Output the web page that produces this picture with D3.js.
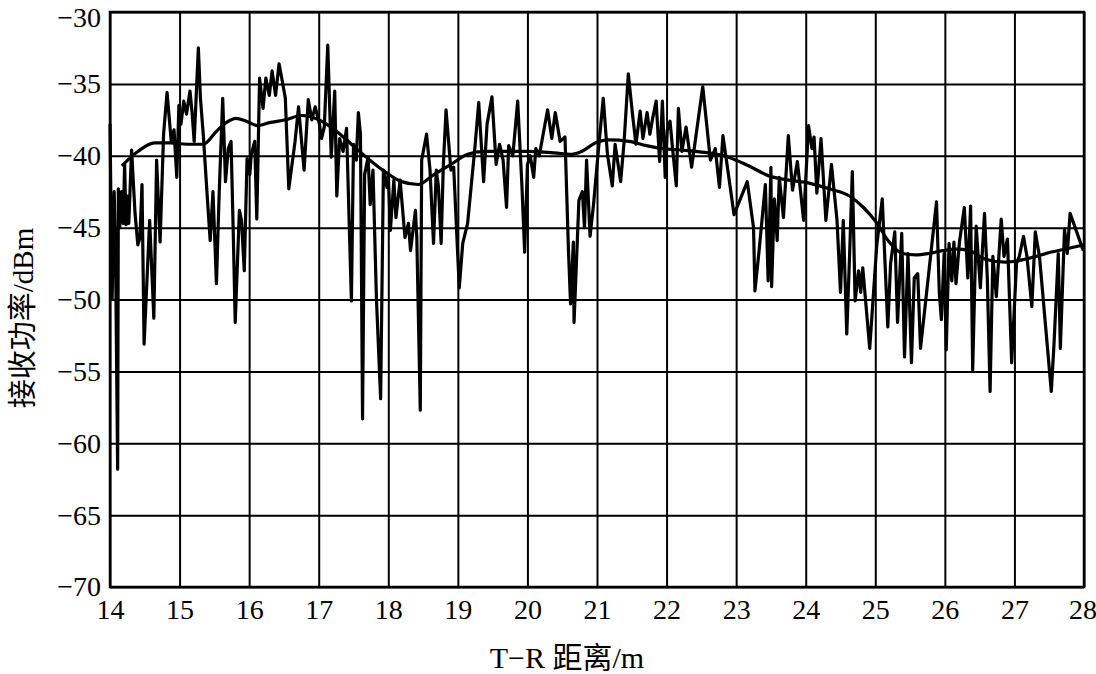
<!DOCTYPE html>
<html>
<head>
<meta charset="utf-8">
<script src="https://cdn.jsdelivr.net/npm/d3@7"></script>
<style>
  html, body { margin: 0; padding: 0; background: #fff; }
  svg { display: block; }
</style>
</head>
<body>
<svg id="chart" width="1096" height="674"></svg>
<script>
// ---- data ----
const rawDist = [
  14.00,14.03,14.06,14.08,14.11,14.12,14.14,14.165,14.19,14.21,14.23,14.25,14.27,14.31,14.36,14.40,14.43,14.46,14.49,14.57,
  14.63,14.67,14.72,14.77,14.82,14.88,14.92,14.96,14.99,15.02,15.06,15.10,15.15,15.18,15.21,15.27,15.30,15.34,15.40,15.44,
  15.48,15.53,15.57,15.62,15.66,15.70,15.74,15.77,15.80,15.86,15.89,15.93,15.97,16.01,16.03,16.08,16.11,16.15,16.20,16.24,
  16.29,16.33,16.38,16.43,16.48,16.52,16.57,16.66,16.71,16.79,16.85,16.90,16.95,17.01,17.04,17.08,17.13,17.18,17.23,17.26,
  17.30,17.35,17.40,17.44,17.47,17.50,17.54,17.57,17.60,17.63,17.66,17.71,17.74,17.78,17.83,17.89,17.93,17.98,18.00,18.03,
  18.08,18.11,18.17,18.24,18.29,18.32,18.39,18.41,18.46,18.48,18.55,18.60,18.65,18.69,18.72,18.76,18.79,18.83,18.90,18.94,
  19.02,19.07,19.14,19.24,19.30,19.37,19.42,19.49,19.55,19.60,19.65,19.70,19.73,19.79,19.86,19.92,19.96,20.00,20.04,20.09,
  20.12,20.17,20.29,20.35,20.40,20.47,20.54,20.59,20.62,20.66,20.67,20.74,20.79,20.82,20.85,20.90,20.95,21.02,21.09,21.15,
  21.22,21.26,21.34,21.39,21.45,21.51,21.56,21.62,21.66,21.72,21.76,21.80,21.85,21.90,21.94,21.98,22.01,22.05,22.09,22.14,
  22.17,22.22,22.28,22.36,22.52,22.63,22.70,22.76,22.81,22.86,22.97,23.16,23.25,23.27,23.33,23.42,23.46,23.50,23.51,23.55,
  23.59,23.62,23.68,23.75,23.81,23.88,23.97,24.04,24.09,24.12,24.16,24.22,24.29,24.37,24.45,24.50,24.54,24.59,24.63,24.67,
  24.71,24.76,24.79,24.82,24.92,25.02,25.10,25.18,25.22,25.28,25.32,25.38,25.42,25.47,25.52,25.56,25.61,25.65,25.88,25.92,
  25.95,25.99,26.02,26.06,26.10,26.13,26.16,26.21,26.28,26.33,26.37,26.40,26.45,26.51,26.57,26.61,26.65,26.69,26.74,26.81,
  26.85,26.90,26.96,27.03,27.07,27.13,27.18,27.25,27.30,27.36,27.53,27.57,27.63,27.66,27.72,27.76,27.80,27.99
];
const rawPower = [
  -37.8,-50.0,-42.5,-47.0,-61.8,-42.3,-45.0,-42.5,-44.7,-40.6,-44.8,-42.8,-44.7,-39.6,-44.0,-46.2,-45.7,-42.0,-53.1,-44.5,
  -51.3,-40.3,-46.0,-38.5,-35.6,-39.0,-38.2,-41.5,-36.5,-37.8,-36.2,-37.1,-35.5,-37.0,-39.0,-32.5,-36.0,-38.5,-43.0,-45.9,
  -42.5,-48.9,-42.5,-36.0,-41.8,-39.5,-39.0,-45.0,-51.6,-43.8,-44.5,-48.0,-40.2,-41.3,-39.9,-39.0,-44.4,-34.6,-36.7,-34.6,
  -35.8,-34.1,-35.8,-33.6,-34.9,-36.0,-42.3,-39.0,-36.6,-41.0,-36.1,-37.5,-36.6,-37.8,-38.8,-38.0,-32.3,-40.1,-35.5,-42.8,
  -38.8,-39.7,-38.1,-45.0,-50.1,-39.2,-40.3,-37.0,-38.5,-58.3,-41.3,-40.1,-43.4,-41.0,-50.0,-56.9,-41.0,-42.2,-41.3,-45.2,
  -41.7,-44.3,-41.7,-45.7,-44.7,-46.6,-43.8,-45.7,-57.7,-40.3,-38.5,-41.0,-46.1,-41.0,-42.1,-46.1,-40.8,-36.8,-41.0,-40.8,
  -49.2,-46.1,-44.7,-39.7,-36.3,-41.8,-37.8,-35.9,-40.6,-39.2,-40.3,-43.6,-39.3,-40.0,-36.2,-42.0,-46.7,-40.6,-40.0,-41.5,
  -39.5,-40.0,-36.8,-38.8,-37.0,-39.0,-38.7,-46.6,-50.3,-46.0,-51.6,-43.1,-42.5,-45.0,-40.3,-45.6,-43.4,-39.6,-36.0,-39.9,
  -42.1,-39.2,-41.8,-39.0,-34.3,-37.1,-39.2,-36.9,-38.8,-37.0,-38.5,-37.4,-36.2,-40.4,-36.2,-41.5,-38.2,-37.6,-39.7,-42.1,
  -36.7,-39.7,-38.0,-40.8,-35.2,-40.3,-39.5,-42.2,-38.6,-40.3,-44.1,-41.8,-45.0,-49.4,-46.6,-42.0,-48.7,-40.8,-49.1,-43.0,
  -45.9,-41.5,-44.3,-38.6,-42.4,-40.4,-44.5,-37.9,-39.5,-38.7,-42.6,-38.8,-44.5,-40.6,-44.5,-49.5,-44.5,-52.4,-47.0,-41.1,
  -50.1,-48.0,-49.5,-47.8,-53.4,-46.3,-43.0,-51.9,-47.5,-45.3,-51.6,-45.4,-54.0,-46.8,-54.4,-48.5,-48.2,-53.4,-43.2,-49.5,
  -51.4,-46.8,-53.5,-46.1,-48.7,-46.0,-48.9,-46.0,-43.6,-48.5,-43.5,-54.9,-44.9,-49.2,-44.0,-48.5,-56.4,-47.0,-49.8,-44.4,
  -47.0,-45.8,-54.4,-47.5,-47.0,-45.6,-47.0,-50.5,-45.3,-47.0,-56.4,-53.0,-46.8,-53.4,-45.1,-46.8,-44.0,-46.6
];
const smoothDist = [
  14.17,14.40,14.64,14.87,15.10,15.34,15.53,15.67,15.81,15.96,16.12,16.29,16.52,16.75,17.00,17.23,17.47,17.71,17.95,18.19,
  18.43,18.66,18.90,19.14,19.38,19.62,20.00,20.39,20.63,20.78,20.98,21.17,21.46,21.71,21.95,22.20,22.60,22.89,23.18,23.47,
  23.76,24.05,24.34,24.63,24.83,25.01,25.20,25.39,25.58,25.77,25.97,26.16,26.35,26.58,26.87,27.15,27.53,27.91,28.00
];
const smoothPower = [
  -40.7,-39.7,-39.1,-39.1,-39.2,-39.2,-38.3,-37.7,-37.4,-37.6,-37.9,-37.7,-37.5,-37.2,-37.5,-38.2,-39.2,-40.2,-41.1,-41.8,
  -42.0,-41.3,-40.6,-39.9,-39.7,-39.7,-39.7,-39.8,-39.9,-39.7,-39.1,-38.9,-39.0,-39.3,-39.5,-39.6,-39.8,-40.1,-40.7,-41.4,
  -41.7,-41.9,-42.3,-42.8,-43.6,-44.6,-46.0,-46.8,-46.9,-46.8,-46.6,-46.5,-46.6,-47.2,-47.4,-47.2,-46.7,-46.3,-46.2
];
const xTicks = [14,15,16,17,18,19,20,21,22,23,24,25,26,27,28];
const yTicks = [-30,-35,-40,-45,-50,-55,-60,-65,-70];
const xTitle = "T\u2212R 距离/m";
const yTitle = "接收功率/dBm";

// ---- layout ----
const margin = {left: 110, right: 12, top: 12, bottom: 87};
const W = 1096, H = 674;
const svg = d3.select("#chart");
const x = d3.scaleLinear().domain([14, 28]).range([margin.left, W - margin.right]);
const y = d3.scaleLinear().domain([-70, -30]).range([H - margin.bottom, margin.top]);
const numFont = "'Liberation Serif', 'Times New Roman', serif";
const titleFont = "'Liberation Serif', 'Noto Sans CJK SC', serif";

// gridlines + labels via axes
const gx = svg.append("g")
  .attr("transform", `translate(0,${y(-70)})`)
  .call(d3.axisBottom(x).tickValues(xTicks).tickSize(-(y(-70) - y(-30)))
        .tickPadding(12).tickFormat(d3.format("d")));
const gy = svg.append("g")
  .attr("transform", `translate(${x(14)},0)`)
  .call(d3.axisLeft(y).tickValues(yTicks).tickSize(-(x(28) - x(14)))
        .tickPadding(9).tickFormat(d => d3.format("d")(d)));
[gx, gy].forEach(g => {
  g.select(".domain").remove();
  g.selectAll(".tick line").attr("stroke", "#000").attr("stroke-width", 2);
  g.selectAll(".tick text").attr("fill", "#000")
    .style("font-family", numFont).style("font-size", "28px");
});
// keep edge labels inside the picture
gx.selectAll(".tick text").filter(d => d === 28).attr("text-anchor", "end").attr("dx", "0.45em");
gy.selectAll(".tick text").filter(d => d === -30).attr("dy", "0.52em");

// frame
svg.append("rect")
  .attr("x", x(14)).attr("y", y(-30))
  .attr("width", x(28) - x(14)).attr("height", y(-70) - y(-30))
  .attr("fill", "none").attr("stroke", "#000").attr("stroke-width", 2.5);

// lines
const rawData = rawDist.map((d, i) => [d, rawPower[i]]);
const smoothData = smoothDist.map((d, i) => [d, smoothPower[i]]);
const line = d3.line().x(d => x(d[0])).y(d => y(d[1]));
const smoothLine = d3.line().x(d => x(d[0])).y(d => y(d[1])).curve(d3.curveMonotoneX);

svg.append("path").datum(rawData)
  .attr("d", line).attr("fill", "none").attr("stroke", "#000")
  .attr("stroke-width", 3.2).attr("stroke-linejoin", "round");
svg.append("path").datum(smoothData)
  .attr("d", smoothLine).attr("fill", "none").attr("stroke", "#000")
  .attr("stroke-width", 3.2).attr("stroke-linejoin", "round");

// axis titles
svg.append("text")
  .attr("x", 567).attr("y", 668).attr("text-anchor", "middle")
  .style("font-family", titleFont).style("font-size", "30px").attr("fill", "#000")
  .text(xTitle);
svg.append("text")
  .attr("transform", "translate(33,318) rotate(-90)").attr("text-anchor", "middle")
  .style("font-family", titleFont).style("font-size", "29px").attr("fill", "#000")
  .text(yTitle);
</script>
</body>
</html>
